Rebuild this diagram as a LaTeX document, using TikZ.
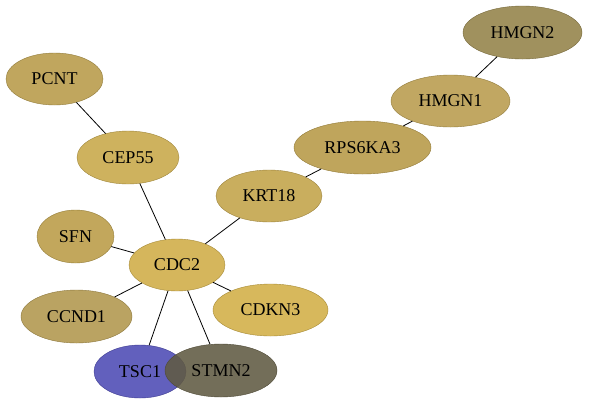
\documentclass[tikz,border=0pt]{standalone}
\usepackage{fontspec}
\setmainfont{Liberation Serif}
\usetikzlibrary{shapes.geometric}

\definecolor{cHMGNdos}{RGB}{147,130,72}
\definecolor{cHMGNuno}{RGB}{184,155,76}
\definecolor{cRPS}{RGB}{182,152,69}
\definecolor{cKRT}{RGB}{194,163,72}
\definecolor{cPCNT}{RGB}{183,154,72}
\definecolor{cCEP}{RGB}{199,167,72}
\definecolor{cSFN}{RGB}{185,155,69}
\definecolor{cCDC}{RGB}{207,172,69}
\definecolor{cCCND}{RGB}{176,150,76}
\definecolor{cCDKN}{RGB}{209,174,69}
\definecolor{cTSC}{RGB}{76,74,180}
\definecolor{cSTMN}{RGB}{96,90,66}

\tikzset{
  gen/.style={ellipse, inner sep=0pt, fill=#1, draw=#1!80!black,
    fill opacity=0.88, text opacity=1, font=\fontsize{18}{20}\selectfont},
  enlace/.style={black, line width=0.8pt}
}

\begin{document}
\begin{tikzpicture}[x=1pt,y=-1pt]

  % Marco de la imagen
  \useasboundingbox (0,0) rectangle (589,405);

  % Nodos (genes)
  \node[gen=cHMGNdos, minimum width=119pt, minimum height=53pt] (hmgn2) at (522.5,32.5) {HMGN2};
  \node[gen=cHMGNuno, minimum width=119pt, minimum height=52pt] (hmgn1) at (450.5,101) {HMGN1};
  \node[gen=cRPS, minimum width=137pt, minimum height=53pt] (rps6ka3) at (362.5,147.5) {RPS6KA3};
  \node[gen=cKRT, minimum width=106pt, minimum height=52pt] (krt18) at (269,196) {KRT18};
  \node[gen=cPCNT, minimum width=97pt, minimum height=52pt] (pcnt) at (54.5,79) {PCNT};
  \node[gen=cCEP, minimum width=102pt, minimum height=53pt] (cep55) at (128,157.5) {CEP55};
  \node[gen=cSFN, minimum width=77pt, minimum height=53pt] (sfn) at (75.5,236.5) {SFN};
  \node[gen=cCDC, minimum width=96pt, minimum height=52pt] (cdc2) at (177,265) {CDC2};
  \node[gen=cCCND, minimum width=111pt, minimum height=53pt] (ccnd1) at (76.5,316.5) {CCND1};
  \node[gen=cCDKN, minimum width=115pt, minimum height=52pt] (cdkn3) at (270.5,310) {CDKN3};
  \node[gen=cTSC, minimum width=92pt, minimum height=53pt] (tsc1) at (140,371.5) {TSC1};
  \node[gen=cSTMN, minimum width=112pt, minimum height=53pt] (stmn2) at (221,370.5) {STMN2};

  % Aristas
  \foreach \a/\b in {hmgn2/hmgn1, hmgn1/rps6ka3, rps6ka3/krt18, krt18/cdc2,
                     pcnt/cep55, cep55/cdc2, sfn/cdc2, ccnd1/cdc2,
                     cdkn3/cdc2, tsc1/cdc2, stmn2/cdc2}{
    \draw[enlace] (\a) -- (\b);
  }

\end{tikzpicture}
\end{document}
